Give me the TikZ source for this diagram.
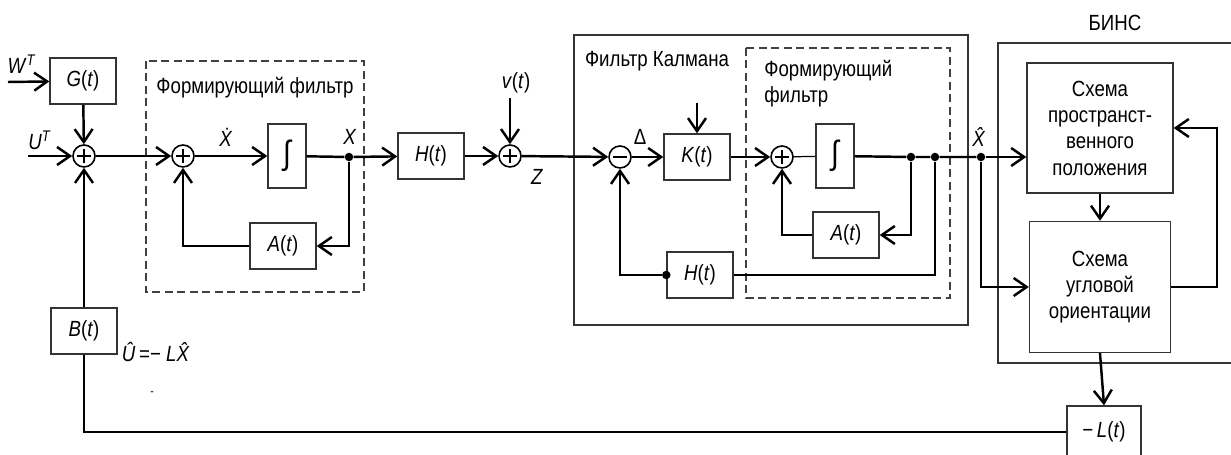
\documentclass[tikz,border=0pt]{standalone}
\usepackage{fontspec}
\setmainfont{Liberation Sans}[FakeStretch=0.85]
\usetikzlibrary{arrows.meta}

\begin{document}
\begin{tikzpicture}[x=0.02cm,y=-0.02cm,>={Straight Barb[length=2.6mm,width=3.6mm]},
  font=\fontsize{12.5}{15}\selectfont,
  blok/.style={draw=black!80,line width=0.8pt,minimum width=1.32cm,minimum height=0.92cm,inner sep=0pt},
  integ/.style={blok,minimum width=0.76cm,minimum height=1.28cm,font=\fontsize{19}{19}\selectfont},
  bins/.style={blok,align=center},
  summa/.style={draw,circle,line width=0.9pt,minimum size=4.4mm,inner sep=0pt},
  minus/.style={summa,path picture={
    \draw[line width=1.1pt] ([xshift=-1.4mm]path picture bounding box.center) -- ([xshift=1.4mm]path picture bounding box.center);}},
  plus/.style={summa,path picture={
    \draw[line width=1.1pt] ([xshift=-1.4mm]path picture bounding box.center) -- ([xshift=1.4mm]path picture bounding box.center)
      ([yshift=-1.4mm]path picture bounding box.center) -- ([yshift=1.4mm]path picture bounding box.center);}},
  dot/.style={circle,fill,inner sep=0pt,minimum size=1.7mm},
  sig/.style={line width=1.4pt},
  tonk/.style={line width=0.7pt},
  ramka/.style={draw=black!75,line width=0.8pt,dash pattern=on 1.6mm off 0.9mm}]
  \useasboundingbox (0,0) rectangle (1231,455);

  \draw[ramka] (146,61) rectangle (364,292);
  \draw[ramka] (746,48) rectangle (950,298);
  \draw[black!80,line width=0.8pt] (574,35) rectangle (968,325);
  \draw[black!80,line width=0.8pt] (1240,43) -| (998,363) -- (1240,363);

  \node (tf1) at (255,88) {Формирующий фильтр};
  \node (tkf) at (657,61) {Фильтр Калмана};
  \node[anchor=north west,align=left,inner sep=0pt] (tf2) at (764,60) {Формирующий\\фильтр};
  \node (tbins) at (1115,23) {БИНС};

  \node[blok] (G) at (83,81) {\textit{G}(\textit{t})};
  \node[plus] (s1) at (84,156) {};
  \node[blok] (B) at (84,331) {\textit{B}(\textit{t})};
  \node[plus] (s2) at (183,156) {};
  \node[integ] (int1) at (287,156) {∫};
  \node[dot] (d1) at (349,157) {};
  \node[blok] (A1) at (283,246) {\textit{A}(\textit{t})};
  \node[blok] (H1) at (431,156) {\textit{H}(\textit{t})};
  \node[plus] (s3) at (510,156) {};
  \node[minus] (m) at (620,157) {};
  \node[blok] (K) at (697,157) {\textit{K}(\textit{t})};
  \node[plus] (s4) at (782,157) {};
  \node[integ] (int2) at (835,156) {∫};
  \node[dot] (d2) at (911,157) {};
  \node[dot] (d3) at (935,157) {};
  \node[dot] (d4) at (981,157) {};
  \node[blok] (A2) at (846,235) {\textit{A}(\textit{t})};
  \node[blok] (H2) at (700,275) {\textit{H}(\textit{t})};
  \node[dot] (d5) at (H2.west) {};
  \node[bins,minimum width=2.92cm,minimum height=2.6cm] (P) at (1100,128) {Схема\\пространст-\\венного\\положения};
  \node[bins,minimum width=2.82cm,minimum height=2.62cm] (O) at (1100,287) {Схема\\угловой\\ориентации};
  \node[blok,minimum width=1.48cm,minimum height=1.04cm] (L) at (1104,432) {−\,\textit{L}(\textit{t})};

  \coordinate (w) at (8,82);
  \coordinate (u) at (28,156);
  \coordinate (v) at (510,98);
  \coordinate (k) at (697,103);

  \node (lw) at (22,64) {\textit{W}\textsuperscript{\textit{T}}};
  \node (lu) at (40,140) {\textit{U}\textsuperscript{\textit{T}}};
  \node (lxd) at (226,137) {\textit{\.X}};
  \node (lx) at (350,137) {\textit{X}};
  \node (lv) at (516,83) {\textit{v}(\textit{t})};
  \node (lz) at (537,177) {\textit{Z}};
  \node (ld) at (640,137) {Δ};
  \node (lxh) at (980,137) {\textit{\^X}};
  \node (lu2) at (157,352) {\textit{\^U}\,=− \textit{L\^X}};
  \node[font=\scriptsize] (lm) at (152,394) {-};

  \draw[sig,->] (w) -- (G);
  \draw[sig,->] (G) -- (s1);
  \draw[sig,->] (u) -- (s1);
  \draw[sig,->] (B) -- (s1);
  \draw[sig,->] (s1) -- (s2);
  \draw[sig,->] (s2) -- (int1);
  \draw[sig] (int1) -- (d1);
  \draw[sig,->] (d1) -- (H1);
  \draw[sig,->] (d1) |- (A1);
  \draw[sig,->] (A1) -| (s2);
  \draw[sig,->] (H1) -- (s3);
  \draw[sig,->] (v) -- (s3);
  \draw[sig,->] (s3) -- (m);
  \draw[sig,->] (m) -- (K);
  \draw[sig,->] (k) -- (K);
  \draw[sig,->] (K) -- (s4);
  \draw[tonk] (s4) -- (int2);
  \draw[sig] (int2) -- (d2) -- (d3) -- (d4);
  \draw[sig,->] (d2) |- (A2);
  \draw[sig,->] (A2) -| (s4);
  \draw[sig] (d3) |- (H2);
  \draw[sig,->] (d5) -| (m);
  \draw[sig,->] (d4) -- (d4 -| P.west);
  \draw[sig,->] (d4) |- (O.west);
  \draw[sig,->] (P) -- (O);
  \draw[sig,->] (O.east) -- ++(46,0) |- (P.east);
  \draw[sig,->] (O.south) -- (L.north);
  \draw[tonk] (L) -| (B);
\end{tikzpicture}
\end{document}
